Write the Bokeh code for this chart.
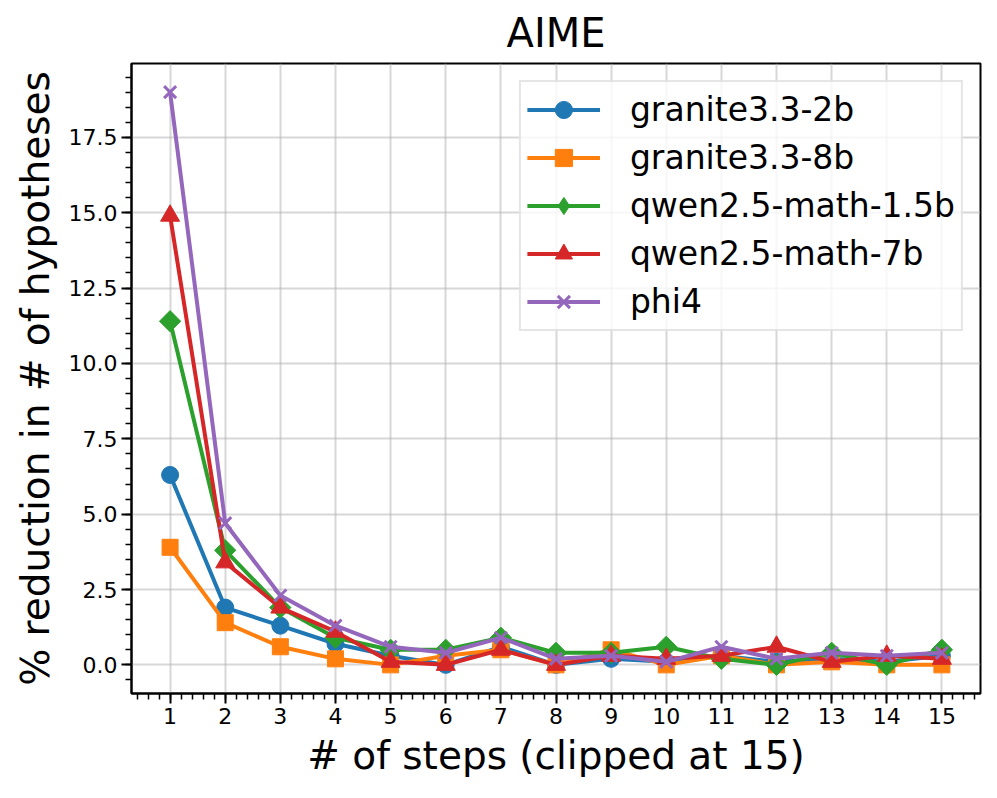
import numpy as np
from bokeh.plotting import figure
from bokeh.models import FixedTicker, NumeralTickFormatter, Range1d, Legend
from bokeh.embed import file_html
from bokeh.resources import INLINE

steps = list(range(1, 16))
names = ["granite3.3-2b", "granite3.3-8b", "qwen2.5-math-1.5b", "qwen2.5-math-7b", "phi4"]
granite_2b = [6.3, 1.9, 1.3, 0.7, 0.3, 0.0, 0.6, 0.0, 0.2, 0.1, 0.3, 0.1, 0.2, 0.1, 0.3]
granite_8b = [3.9, 1.4, 0.6, 0.2, 0.0, 0.3, 0.5, 0.0, 0.5, 0.0, 0.3, 0.0, 0.1, 0.0, 0.0]
qwen_15b = [11.4, 3.8, 1.9, 0.9, 0.5, 0.5, 0.9, 0.4, 0.4, 0.6, 0.2, 0.0, 0.4, 0.0, 0.5]
qwen_7b = [14.9, 3.4, 1.9, 1.1, 0.1, 0.0, 0.5, 0.0, 0.3, 0.2, 0.3, 0.6, 0.1, 0.3, 0.2]
phi4 = [19.0, 4.7, 2.3, 1.3, 0.6, 0.4, 0.9, 0.2, 0.3, 0.1, 0.6, 0.2, 0.4, 0.3, 0.4]
y_ticks = [0.0, 2.5, 5.0, 7.5, 10.0, 12.5, 15.0, 17.5]

series = [granite_2b, granite_8b, qwen_15b, qwen_7b, phi4]
colors = ["#1f77b4", "#ff7f0e", "#2ca02c", "#d62728", "#9467bd"]
# (data marker, size, angle, legend marker)
markers = [("circle", 17, 0.0, None), ("square", 16, 0.0, None),
           ("square", 15, np.pi / 4, "diamond"),
           ("triangle", 19, 0.0, None), ("x", 17, 0.0, None)]

FONT = "DejaVu Sans"

p = figure(width=997, height=798, output_backend="svg", toolbar_location=None,
           x_range=Range1d(0.3, 15.7), y_range=Range1d(-0.95, 19.95),
           min_border_left=131, min_border_right=17, min_border_top=63, min_border_bottom=105)

p.title.text = "AIME"
p.title.align = "center"
p.title.text_font = FONT
p.title.text_font_size = "40px"
p.title.text_font_style = "normal"
p.title.text_color = "black"
p.title.standoff = 15

p.outline_line_color = "black"
p.outline_line_width = 2
p.background_fill_color = "white"
p.border_fill_color = "white"

xt = FixedTicker(ticks=steps, minor_ticks=[round(0.4 + 0.2 * i, 2) for i in range(77)])
yt = FixedTicker(ticks=y_ticks, minor_ticks=[round(-0.5 + 0.5 * i, 2) for i in range(41)])
p.xaxis.ticker = xt
p.yaxis.ticker = yt
p.yaxis.formatter = NumeralTickFormatter(format="0.0")

for ax in (p.xaxis[0], p.yaxis[0]):
    ax.axis_line_color = "black"
    ax.axis_line_width = 2
    ax.major_tick_line_width = 2
    ax.minor_tick_line_width = 1.5
    ax.major_tick_in = 0
    ax.major_tick_out = 10
    ax.minor_tick_in = 0
    ax.minor_tick_out = 6
    ax.major_label_text_font = FONT
    ax.major_label_text_font_size = "22px"
    ax.major_label_text_color = "black"
    ax.axis_label_text_font = FONT
    ax.axis_label_text_font_size = "39px"
    ax.axis_label_text_font_style = "normal"
    ax.axis_label_text_color = "black"

p.xaxis.axis_label = "# of steps (clipped at 15)"
p.yaxis.axis_label = "% reduction in # of hypotheses"
p.xaxis.major_label_standoff = 4
p.xaxis.axis_label_standoff = 6
p.yaxis.major_label_standoff = 4
p.yaxis.axis_label_standoff = 8

p.xgrid.ticker = xt
p.ygrid.ticker = yt
p.grid.grid_line_color = "#b0b0b0"
p.grid.grid_line_alpha = 0.5
p.grid.grid_line_width = 2

items = []
for name, ys, c, (m, sz, ang, lm) in zip(names, series, colors, markers):
    r1 = p.line(steps, ys, line_color=c, line_width=4)
    r2 = p.scatter(steps, ys, marker=m, size=sz, angle=ang, fill_color=c, line_color=c,
                   line_width=3 if m == "x" else 1)
    if lm is not None:
        # legend-only marker (legend glyphs ignore angle)
        r3 = p.scatter(steps[:1], ys[:1], marker=lm, size=sz, fill_color=c, line_color=c,
                       visible=False)
        items.append((name, [r1, r3]))
    else:
        items.append((name, [r1, r2]))

legend = Legend(items=items, location="top_right")
legend.label_text_font = FONT
legend.label_text_font_size = "33px"
legend.label_text_color = "black"
legend.glyph_width = 73
legend.glyph_height = 43
legend.label_height = 43
legend.label_standoff = 30
legend.spacing = 5
legend.padding = 6
legend.margin = 17
legend.border_line_color = "#cccccc"
legend.border_line_width = 2
legend.background_fill_alpha = 0.8
p.add_layout(legend)

open("out.html", "w").write(file_html(p, INLINE))
